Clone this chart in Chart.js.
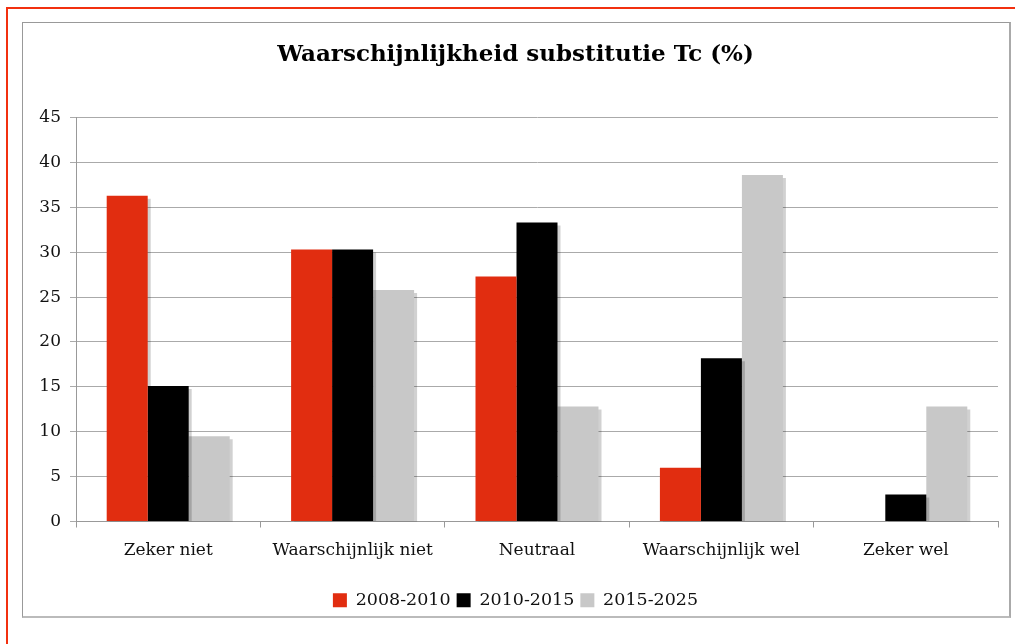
<!DOCTYPE html>
<html>
<head>
<meta charset="utf-8">
<script src="https://cdn.jsdelivr.net/npm/chart.js@4"></script>
<style>
  html, body { margin: 0; padding: 0; background: #fff; }
  #page { position: absolute; left: 6px; top: 7px; width: 1100px; height: 700px;
          border-left: 2px solid #f2300f; border-top: 2px solid #f2300f; }
  #box { position: absolute; left: 22px; top: 22px; width: 986px; height: 593px;
         border: 1px solid #999; border-right: 2px solid #aaa; border-bottom: 2px solid #bbb; }
</style>
</head>
<body>
<div id="page"></div>
<div id="box"><canvas id="barChart" width="986" height="593"></canvas></div>
<script>
var categories = ["Zeker niet", "Waarschijnlijk niet", "Neutraal", "Waarschijnlijk wel", "Zeker wel"];
var series1 = [36.3, 30.3, 27.3, 6.0, 0];
var series2 = [15.1, 30.3, 33.3, 18.2, 3.0];
var series3 = [9.5, 25.8, 12.8, 38.6, 12.8];
var seriesNames = ["2008-2010", "2010-2015", "2015-2025"];
var yTicks = [0, 5, 10, 15, 20, 25, 30, 35, 40, 45];

var serif = "'DejaVu Serif', 'Liberation Serif', serif";

// light drop shadow behind the bars
var barShadow = {
  id: 'barShadow',
  beforeDatasetsDraw: function(chart) {
    var c = chart.ctx;
    c.save();
    c.shadowColor = 'rgba(0,0,0,0.18)';
    c.shadowOffsetX = 3;
    c.shadowOffsetY = 3;
    c.shadowBlur = 0;
  },
  afterDatasetsDraw: function(chart) {
    chart.ctx.restore();
  }
};

var bar = document.getElementById("barChart");
new Chart(bar, {
  type: 'bar',
  data: {
    labels: categories,
    datasets: [
      { label: seriesNames[0], data: series1, backgroundColor: "#e12d10", borderWidth: 0 },
      { label: seriesNames[1], data: series2, backgroundColor: "#000000", borderWidth: 0 },
      { label: seriesNames[2], data: series3, backgroundColor: "#c8c8c8", borderWidth: 0 }
    ]
  },
  options: {
    responsive: false,
    animation: false,
    events: [],
    layout: { padding: { left: 10, right: 11, top: 0, bottom: -3 } },
    datasets: { bar: { categoryPercentage: 0.667, barPercentage: 1.0 } },
    scales: {
      x: {
        afterFit: function(axis) { axis.height = 64; },
        grid: { display: true, offset: true, drawOnChartArea: false, color: "#999", tickLength: 6 },
        border: { color: "#999", width: 1 },
        ticks: { color: "#111", font: { family: serif, size: 17 }, padding: 13 }
      },
      y: {
        min: 0, max: 45,
        afterBuildTicks: function(axis) { axis.ticks = yTicks.map(function(v) { return { value: v }; }); },
        afterFit: function(axis) { axis.width = 43; },
        grid: { color: "#aaa", tickLength: 6 },
        border: { color: "#999", width: 1 },
        ticks: { color: "#111", font: { family: serif, size: 17 }, padding: 9 }
      }
    },
    plugins: {
      title: {
        display: true,
        text: 'Waarschijnlijkheid substitutie Tc (%)',
        color: "#000",
        font: { family: serif, size: 23, weight: 'bold' },
        padding: { top: 18, bottom: 49 }
      },
      legend: {
        position: 'bottom',
        labels: {
          color: "#111",
          font: { family: serif, size: 17.5 },
          boxWidth: 14, boxHeight: 14, padding: 6
        }
      },
      tooltip: { enabled: false }
    }
  },
  plugins: [barShadow]
});
</script>
</body>
</html>
